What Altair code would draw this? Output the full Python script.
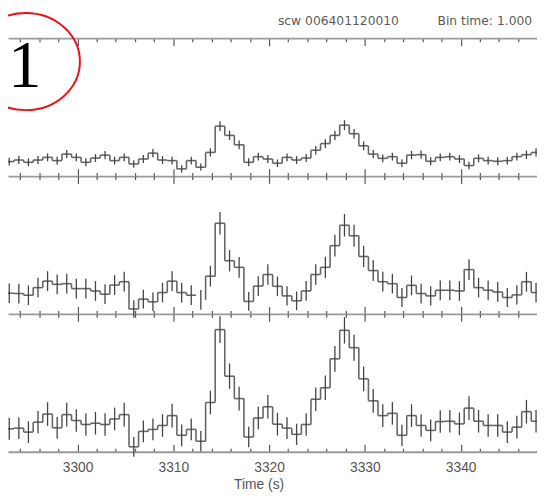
import altair as alt
import pandas as pd

# ---------------- data ----------------
time = [3291.87, 3292.87, 3293.87, 3294.87, 3295.87, 3296.87, 3297.87, 3298.87, 3299.87, 3300.87,
        3301.87, 3302.87, 3303.87, 3304.87, 3305.87, 3306.87, 3307.87, 3308.87, 3309.87, 3310.87,
        3311.87, 3312.87, 3313.87, 3314.87, 3315.87, 3316.87, 3317.87, 3318.87, 3319.87, 3320.87,
        3321.87, 3322.87, 3323.87, 3324.87, 3325.87, 3326.87, 3327.87, 3328.87, 3329.87, 3330.87,
        3331.87, 3332.87, 3333.87, 3334.87, 3335.87, 3336.87, 3337.87, 3338.87, 3339.87, 3340.87,
        3341.87, 3342.87, 3343.87, 3344.87, 3345.87, 3346.87, 3347.87]

rate_1 = [14.0, 14.7, 16.3, 14.0, 16.3, 19.0, 15.7, 22.3, 19.0, 14.0,
          18.3, 21.3, 15.7, 19.0, 12.3, 17.3, 23.3, 16.3, 15.7, 7.3,
          15.7, 9.0, 24.0, 50.7, 41.3, 31.7, 14.0, 19.7, 17.3, 13.0,
          19.0, 16.3, 18.3, 26.3, 33.0, 41.3, 51.7, 43.0, 30.7, 22.3,
          18.0, 19.7, 13.0, 21.3, 21.7, 15.0, 19.0, 19.7, 17.3, 10.7,
          18.0, 15.7, 15.0, 15.7, 19.7, 21.7, 24.0]
err_1 = [4.0, 4.0, 4.0, 4.0, 4.0, 4.0, 4.0, 4.2, 4.0, 4.0,
         4.0, 4.2, 4.0, 4.0, 3.8, 4.0, 4.2, 4.0, 4.0, 3.6,
         4.0, 3.7, 4.2, 5.0, 4.7, 4.4, 4.0, 4.0, 4.0, 3.8,
         4.0, 4.0, 4.0, 4.3, 4.5, 4.7, 5.0, 4.8, 4.4, 4.2,
         4.0, 4.0, 3.8, 4.2, 4.2, 4.0, 4.0, 4.0, 4.0, 3.8,
         4.0, 4.0, 4.0, 4.0, 4.0, 4.2, 4.2]

rate_2 = [31.7, 21.0, 20.7, 19.0, 26.7, 33.3, 30.0, 30.7, 25.7, 25.7,
          23.3, 20.0, 29.3, 32.7, 5.0, 15.0, 12.3, 21.7, 33.3, 21.7,
          19.0, 14.3, 38.3, 92.0, 54.0, 47.3, 12.7, 28.3, 40.0, 28.0,
          18.3, 13.3, 23.3, 40.0, 47.3, 69.3, 90.0, 79.3, 58.3, 44.0,
          32.7, 30.7, 16.7, 29.0, 20.7, 18.3, 24.0, 24.0, 23.3, 45.0,
          26.7, 24.0, 22.3, 16.7, 19.3, 32.7, 21.7]
err_2 = [10.0, 10.0, 10.0, 10.0, 10.0, 10.0, 10.0, 10.0, 10.0, 10.0,
         10.0, 10.0, 10.0, 10.0, 9.0, 9.5, 9.5, 10.0, 10.0, 10.0,
         10.0, 10.0, 10.5, 11.5, 10.8, 10.5, 9.5, 10.0, 10.5, 10.0,
         9.8, 9.5, 10.0, 10.5, 10.8, 11.0, 11.5, 11.2, 10.8, 10.5,
         10.0, 10.0, 9.6, 10.0, 10.0, 9.8, 10.0, 10.0, 10.0, 10.5,
         10.0, 10.0, 10.0, 9.6, 9.8, 10.0, 10.0]
gaps_2 = [3312.87]

rate_3 = [31.7, 23.3, 24.0, 20.0, 30.0, 38.3, 24.3, 37.7, 31.7, 27.7,
          29.0, 27.7, 33.3, 37.7, 5.0, 20.7, 22.7, 26.7, 36.7, 16.7,
          22.7, 10.7, 50.0, 124.0, 76.7, 54.0, 15.0, 34.3, 45.7, 28.0,
          24.0, 17.7, 27.7, 53.3, 65.0, 94.3, 123.3, 105.7, 74.0, 51.7,
          36.7, 39.0, 16.7, 36.7, 26.7, 21.7, 30.7, 31.0, 28.3, 44.3,
          31.0, 26.7, 26.7, 20.0, 25.0, 40.7, 31.0]
err_3 = [11.5, 11.0, 11.0, 11.0, 11.5, 12.0, 11.0, 12.0, 11.5, 11.5,
         11.5, 11.5, 11.5, 12.0, 10.0, 11.0, 11.0, 11.5, 12.0, 11.0,
         11.0, 10.5, 12.0, 13.5, 12.8, 12.0, 10.5, 11.5, 12.0, 11.5,
         11.0, 10.8, 11.5, 12.0, 12.5, 13.0, 13.5, 13.2, 12.6, 12.0,
         11.5, 11.5, 10.8, 11.5, 11.5, 11.0, 11.5, 11.5, 11.5, 12.0,
         11.5, 11.5, 11.5, 11.0, 11.5, 12.0, 11.5]

tick_values = [3292, 3294, 3296, 3298, 3300, 3302, 3304, 3306, 3308, 3310,
               3312, 3314, 3316, 3318, 3320, 3322, 3324, 3326, 3328, 3330,
               3332, 3334, 3336, 3338, 3340, 3342, 3344, 3346]
label_values = [3300, 3310, 3320, 3330, 3340]

header_left = ["scw 006401120010"]
header_right = ["Bin time: 1.000"]
panel_tag = ["1"]
x_title = "Time (s)"

# ---------------- table ----------------
rows = []
for p, (r, e, g) in enumerate([(rate_1, err_1, []), (rate_2, err_2, gaps_2), (rate_3, err_3, [])], start=1):
    for t, v, s in zip(time, r, e):
        rows.append({"panel": p, "t": t, "rate": v, "err": s, "gap": int(t in g)})
df = pd.DataFrame(rows)

# ---------------- layout ----------------
W = 537
PH = 139.93
H = 3 * PH
TOP = 27
xs = alt.Scale(domain=[3292.738, 3347.971], nice=False, zero=False)

STEP_C, STEP_W = "#666666", 1.6
ERR_C, ERR_W = "#444444", 1.3

tick_len = {"condition": {"test": "datum.value % 10 === 0", "value": 7.5}, "value": 3.5}
common = dict(values=tick_values, labels=False, title=None, grid=False,
              tickColor="#555555", tickWidth=1.2, domainColor="#9a9a9a",
              domainWidth=1.8, tickSize=tick_len)

ax_b0 = alt.Axis(orient="bottom", offset=-H, domain=True, **common)
ax_b1u = alt.Axis(orient="top", offset=-PH, domain=True, **common)
ax_b1d = alt.Axis(orient="bottom", offset=-2 * PH, domain=False, **common)
ax_b2u = alt.Axis(orient="top", offset=-2 * PH, domain=True, **common)
ax_b2d = alt.Axis(orient="bottom", offset=-PH, domain=False, **common)
ax_b3 = alt.Axis(orient="top", offset=-H, domain=True, **common)
ax_lab = alt.Axis(orient="bottom", offset=0, values=label_values, ticks=False, domain=False,
                  grid=False, labelPadding=8.6, labelFont="Liberation Sans", labelFontSize=14,
                  labelColor="#555555", format="d", title=x_title, titleFont="Liberation Sans",
                  titleFontSize=14, titleFontWeight="normal", titleColor="#555555",
                  titleX=254.4, titleY=37.2, titleBaseline="alphabetic", titleAlign="center")


def ydom(p):
    return alt.Scale(domain=[PH * p - H, PH * p], nice=False, zero=False)


def panel_layers(p, axes):
    base = alt.Chart(df).transform_filter(f"datum.panel == {p}")
    horiz = base.transform_filter("datum.gap == 0").transform_calculate(
        t0="datum.t - 0.5", t1="datum.t + 0.5"
    ).mark_rule(color=STEP_C, strokeWidth=STEP_W).encode(
        x=alt.X("t0:Q", scale=xs, axis=axes[0]),
        x2="t1:Q",
        y=alt.Y("rate:Q", scale=ydom(p), axis=None),
    )
    conn = base.transform_window(
        nrate="lead(rate)", ngap="lead(gap)", sort=[alt.SortField("t", order="ascending")]
    ).transform_filter("isValid(datum.nrate) && datum.ngap != 1").transform_calculate(
        te="datum.t + 0.5"
    ).mark_rule(color=STEP_C, strokeWidth=STEP_W).encode(
        x=alt.X("te:Q", scale=xs, axis=axes[1]),
        y=alt.Y("rate:Q", scale=ydom(p), axis=None),
        y2="nrate:Q",
    )
    errs = base.transform_calculate(
        lo="datum.rate - datum.err", hi="datum.rate + datum.err"
    ).mark_rule(color=ERR_C, strokeWidth=ERR_W).encode(
        x=alt.X("t:Q", scale=xs, axis=axes[2]),
        y=alt.Y("lo:Q", scale=ydom(p), axis=None),
        y2="hi:Q",
    )
    return [horiz, conn, errs]


layers = []
layers += panel_layers(1, [ax_b0, ax_b1u, ax_b1d])
layers += panel_layers(2, [ax_b2u, ax_b2d, ax_b3])
layers += panel_layers(3, [ax_lab, None, None])

head_l = alt.Chart(pd.DataFrame({"txt": header_left})).mark_text(
    font="DejaVu Sans", fontSize=12.5, color="#5a5a5a", align="left", baseline="alphabetic"
).encode(text="txt:N", x=alt.value(274), y=alt.value(-13.5))
head_r = alt.Chart(pd.DataFrame({"txt": header_right})).mark_text(
    font="DejaVu Sans", fontSize=12.5, color="#5a5a5a", align="left", baseline="alphabetic"
).encode(text="txt:N", x=alt.value(436), y=alt.value(-13.5))
tag = alt.Chart(pd.DataFrame({"txt": panel_tag})).mark_text(
    font="Liberation Serif", fontSize=68, color="#000000", align="center", baseline="alphabetic"
).encode(text="txt:N", x=alt.value(17), y=alt.value(49))
ell_path = ("M -1 0 A 1 0.896 0 0 1 0 -0.896 A 1 0.896 0 0 1 1 0 "
            "A 1 0.896 0 0 1 0 0.896 A 1 0.896 0 0 1 -1 0 Z")
ring = alt.Chart(pd.DataFrame({"txt": panel_tag})).mark_point(
    shape=ell_path, size=12100, filled=False, stroke="#e8141c", strokeWidth=2, opacity=1
).encode(x=alt.value(18), y=alt.value(23.7))

layers += [head_l, head_r, ring, tag]

chart = alt.layer(*layers).resolve_scale(y="independent").resolve_axis(
    x="independent"
).properties(
    width=W, height=H, autosize="none",
    padding={"left": 0, "top": TOP, "right": 0, "bottom": 488 - TOP - H},
    background="#ffffff",
).configure_view(stroke=None)

chart.save("out.html", embed_options={"renderer": "svg", "actions": False})
